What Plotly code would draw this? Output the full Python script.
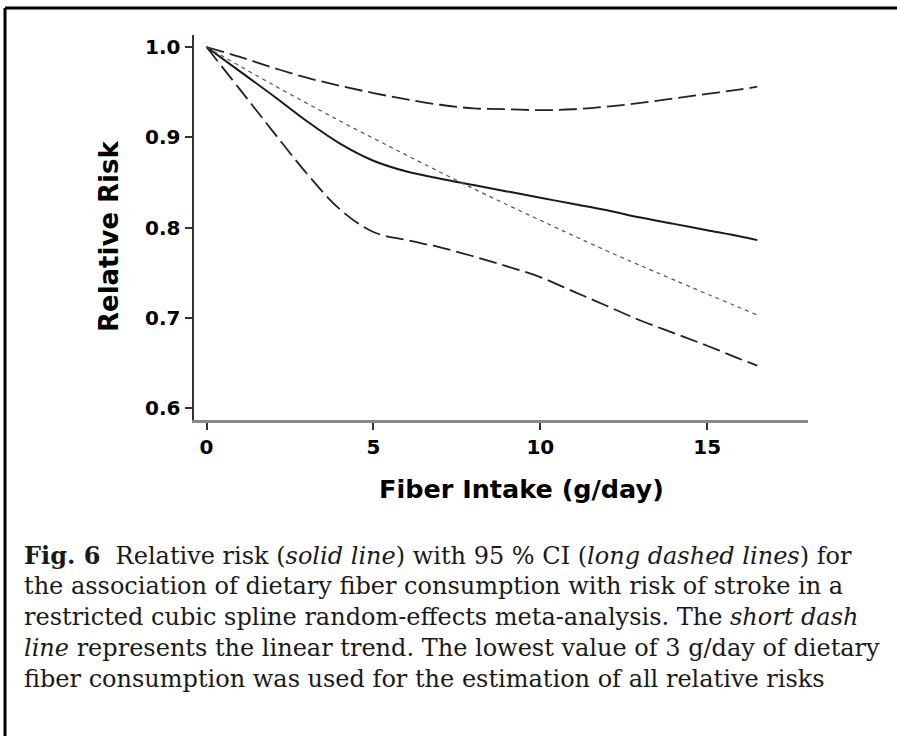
import plotly.graph_objects as go

W, H = 897, 736

# ---- data ----
fiber_x = [0, 1, 2, 3, 4, 5, 6, 7, 8, 9, 10, 11, 12, 13, 14, 15, 16, 16.5]
rr_spline = [1.0, 0.973, 0.946, 0.918, 0.893, 0.874, 0.862, 0.854, 0.847, 0.840,
             0.833, 0.826, 0.819, 0.811, 0.804, 0.797, 0.790, 0.786]
ci_lower = [1.0, 0.953, 0.906, 0.860, 0.820, 0.795, 0.786, 0.778, 0.768, 0.757,
            0.745, 0.729, 0.713, 0.697, 0.683, 0.669, 0.654, 0.647]
ci_upper = [1.0, 0.989, 0.977, 0.966, 0.957, 0.949, 0.942, 0.936, 0.932, 0.931,
            0.930, 0.931, 0.934, 0.938, 0.943, 0.948, 0.953, 0.956]
linear_x = [0, 2, 4, 6, 8, 10, 12, 14, 16.5]
linear_rr = [1.0, 0.958, 0.918, 0.880, 0.843, 0.808, 0.774, 0.742, 0.703]

x_ticks = [0, 5, 10, 15]
y_ticks = [0.6, 0.7, 0.8, 0.9, 1.0]
y_ticklabels = ["0.6", "0.7", "0.8", "0.9", "1.0"]

x_title = "Fiber Intake (g/day)"
y_title = "Relative Risk"
caption_lines = [
    "<b>Fig. 6</b>\u00a0 Relative risk (<i>solid line</i>) with 95 % CI (<i>long dashed lines</i>) for",
    "the association of dietary fiber consumption with risk of stroke in a",
    "restricted cubic spline random-effects meta-analysis. The <i>short dash</i>",
    "<i>line</i> represents the linear trend. The lowest value of 3 g/day of dietary",
    "fiber consumption was used for the estimation of all relative risks",
]

# ---- figure ----
def px(x):
    return x / W

def py(y):
    return 1 - y / H

fig = go.Figure()
long_dash = dict(color="#222222", width=1.8, dash="18px,6px")
fig.add_trace(go.Scatter(x=fiber_x, y=ci_upper, mode="lines", line=dict(long_dash, shape="spline")))
fig.add_trace(go.Scatter(x=fiber_x, y=ci_lower, mode="lines", line=dict(long_dash, shape="spline")))
fig.add_trace(go.Scatter(x=fiber_x, y=rr_spline, mode="lines",
                         line=dict(color="#1a1a1a", width=2, shape="spline")))
fig.add_trace(go.Scatter(x=linear_x, y=linear_rr, mode="lines",
                         line=dict(color="#555555", width=1.2, dash="4px,4px", shape="spline")))

tickfont = dict(family="DejaVu Sans", size=20, color="black", weight="bold")
fig.update_layout(
    width=W, height=H,
    margin=dict(l=0, r=0, t=0, b=0),
    paper_bgcolor="white", plot_bgcolor="white",
    showlegend=False,
    xaxis=dict(domain=[px(193.5), px(808)], range=[-0.39, 18.02],
               tickvals=x_ticks, ticks="outside", ticklen=7, tickwidth=1.5,
               tickcolor="#333333", showline=True, linecolor="#8a8a8a", linewidth=3,
               showgrid=False, zeroline=False, tickfont=tickfont),
    yaxis=dict(domain=[py(420), py(35)], range=[0.5867, 1.0133],
               tickvals=y_ticks, ticktext=y_ticklabels, ticks="outside", ticklen=7,
               tickwidth=1.5, tickcolor="#333333", showline=True, linecolor="#333333",
               linewidth=2, showgrid=False, zeroline=False, tickfont=tickfont),
)

annotations = [
    dict(text=f"<b>{x_title}</b>", x=px(521), y=py(489), xref="paper", yref="paper",
         showarrow=False, xanchor="center", yanchor="middle",
         font=dict(family="DejaVu Sans", size=25.5, color="black")),
    dict(text=f"<b>{y_title}</b>", x=px(109), y=py(237), xref="paper", yref="paper",
         showarrow=False, xanchor="center", yanchor="middle", textangle=-90,
         font=dict(family="DejaVu Sans", size=26, color="black")),
]
line_centers = [555, 586, 617, 648, 679]
for txt, yc in zip(caption_lines, line_centers):
    annotations.append(dict(text=txt, x=px(22), y=py(yc), xref="paper", yref="paper",
                            showarrow=False, xanchor="left", yanchor="middle",
                            font=dict(family="DejaVu Serif", size=24, color="#1a1a1a")))
fig.update_layout(annotations=annotations)

# frame lines (top and left) of the figure panel
fig.add_shape(type="line", xref="paper", yref="paper", x0=px(5), x1=1, y0=py(8), y1=py(8),
              line=dict(color="black", width=3))
fig.add_shape(type="line", xref="paper", yref="paper", x0=px(5), x1=px(5), y0=py(8), y1=0,
              line=dict(color="black", width=3))

fig.write_html("out.html")
